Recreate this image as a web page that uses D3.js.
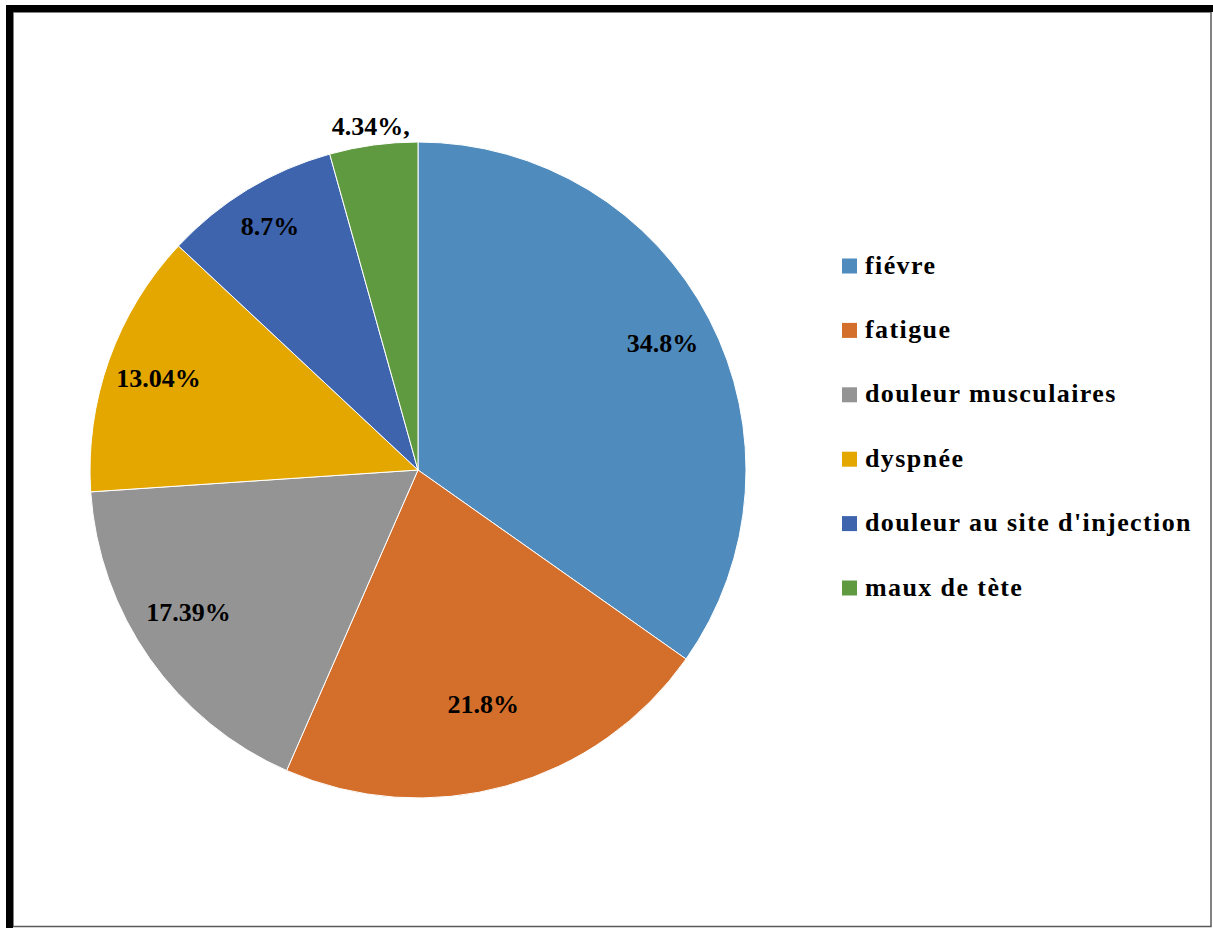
<!DOCTYPE html>
<html>
<head>
<meta charset="utf-8">
<script src="https://cdn.jsdelivr.net/npm/d3@7"></script>
<style>
  html, body { margin: 0; padding: 0; background: #fff; }
  svg { display: block; }
  text { font-family: "Liberation Serif", "Times New Roman", Tinos, "Nimbus Roman", serif; font-weight: bold; fill: #000; }
</style>
</head>
<body>
<svg id="chart" width="1213" height="928"></svg>
<script>
// Symptom categories and their shares (%)
const categories = ["fiévre", "fatigue", "douleur musculaires", "dyspnée", "douleur au site d'injection", "maux de tète"];
const values = [34.8, 21.8, 17.39, 13.04, 8.7, 4.34];
const valueLabels = ["34.8%", "21.8%", "17.39%", "13.04%", "8.7%", "4.34%,"];
const colors = ["#4F8BBD", "#D46F2B", "#949494", "#E3A700", "#3E64AD", "#5F9A40"];

// Label placement: distance from centre (fraction of radius) and angular nudge (degrees)
const labelRadius = [0.84, 0.74, 0.823, 0.84, 0.87, 1.06];
const labelShift = [0, 0, 3.3, 0, 0, 0];

const W = 1213, H = 928;
const svg = d3.select("#chart");

// Frame: thin grey outline with a heavy black edge along top and left
svg.append("rect")
  .attr("x", 13).attr("y", 12).attr("width", 1198).attr("height", 914.5)
  .attr("fill", "#fff").attr("stroke", "#595959").attr("stroke-width", 1.5);
svg.append("rect").attr("x", 6).attr("y", 5).attr("width", W - 6).attr("height", 7).attr("fill", "#000");
svg.append("rect").attr("x", 6).attr("y", 5).attr("width", 7).attr("height", H - 5).attr("fill", "#000");

const cx = 418, cy = 470, R = 328;

const pie = d3.pie().sort(null).value(d => d.value);
const arcs = pie(categories.map((c, i) => ({ name: c, value: values[i], label: valueLabels[i], color: colors[i] })));
const arc = d3.arc().innerRadius(0).outerRadius(R);

const g = svg.append("g").attr("transform", `translate(${cx},${cy})`);

g.selectAll("path.slice")
  .data(arcs)
  .join("path")
  .attr("class", "slice")
  .attr("d", arc)
  .attr("fill", d => d.data.color)
  .attr("stroke", "#fff")
  .attr("stroke-width", 1);

g.selectAll("text.value")
  .data(arcs)
  .join("text")
  .attr("class", "value")
  .attr("transform", (d, i) => {
    const r = R * labelRadius[i];
    const a = (d.startAngle + d.endAngle) / 2 + labelShift[i] * Math.PI / 180;
    return `translate(${r * Math.sin(a)},${-r * Math.cos(a)})`;
  })
  .attr("text-anchor", "middle")
  .attr("dy", "0.35em")
  .style("font-size", "26px")
  .text(d => d.data.label);

// Legend
const legend = svg.append("g").attr("transform", "translate(842,266)");
const rowGap = 64.4;
const items = legend.selectAll("g.item")
  .data(categories)
  .join("g")
  .attr("class", "item")
  .attr("transform", (d, i) => `translate(0,${i * rowGap})`);
items.append("rect")
  .attr("x", 0).attr("y", -7.5).attr("width", 15).attr("height", 15)
  .attr("fill", (d, i) => colors[i]);
items.append("text")
  .attr("x", 23).attr("y", 7.5)
  .style("font-size", "26px")
  .style("letter-spacing", "1.4px")
  .text(d => d);
</script>
</body>
</html>
